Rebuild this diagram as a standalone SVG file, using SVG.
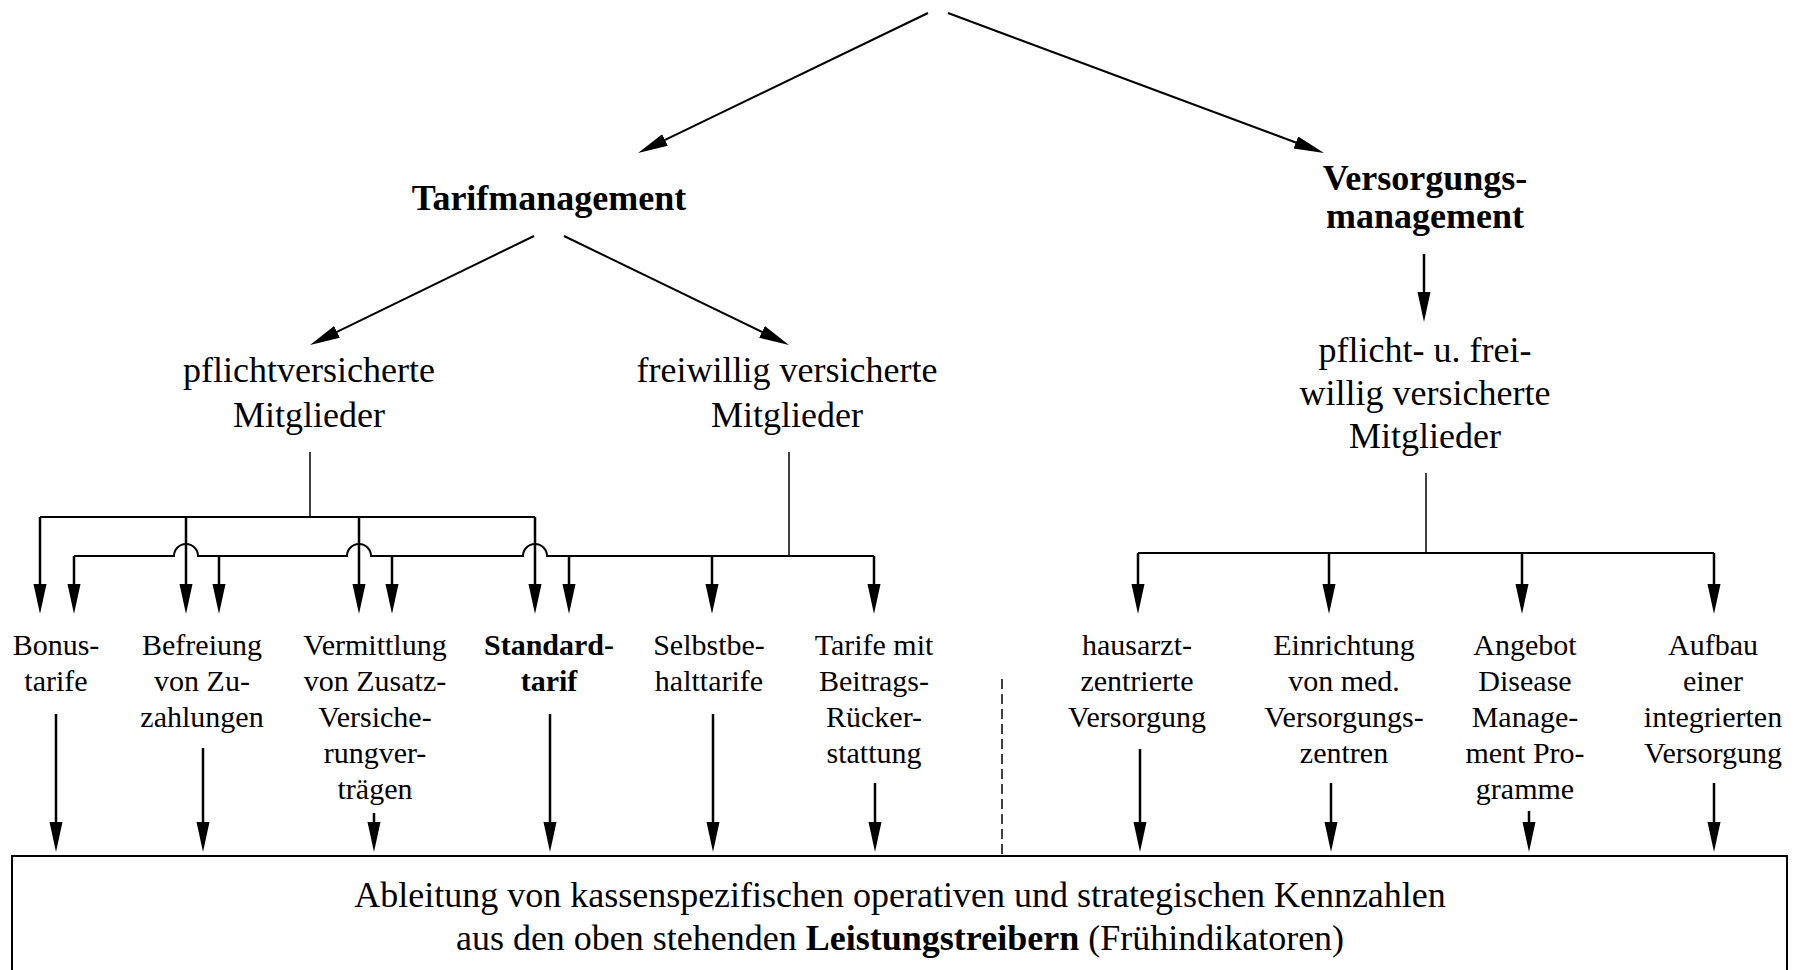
<svg xmlns="http://www.w3.org/2000/svg" width="1800" height="970" viewBox="0 0 1800 970">
<style>
text{font-family:"Liberation Serif","Times New Roman",serif;fill:#000;text-anchor:middle}
.big{font-size:36px}
.lbl{font-size:30px}
.b{font-weight:bold}
.ln{stroke:#000;fill:none;stroke-width:2}
.thin{stroke:#000;fill:none;stroke-width:1.5}
.dn{stroke:#000;fill:none;stroke-width:2.5;marker-end:url(#ah)}
.dg{stroke:#000;fill:none;stroke-width:2;marker-end:url(#ah)}
</style>
<defs>
<marker id="ah" markerUnits="userSpaceOnUse" markerWidth="32" markerHeight="14" refX="20" refY="6.5" orient="auto">
<path d="M0,0 L30,6.5 L0,13 z" fill="#000"/>
</marker>
</defs>
<rect width="1800" height="970" fill="#fff"/>

<g id="connectors">
<line class="dg" x1="928" y1="13" x2="647" y2="148.7"/>
<line class="dg" x1="948" y1="13" x2="1314.6" y2="149.5"/>
<line class="dg" x1="534" y1="236" x2="319" y2="340.6"/>
<line class="dg" x1="564" y1="236" x2="780" y2="340.6"/>
<line class="dn" x1="1424" y1="254" x2="1424" y2="312"/>
<line class="thin" x1="310" y1="452" x2="310" y2="517"/>
<line class="thin" x1="789" y1="452" x2="789" y2="556"/>
<line class="thin" x1="1426" y1="473" x2="1426" y2="553"/>
<path class="ln" d="M40,517 H535"/>
<path class="ln" d="M74,556 H174 A12,12 0 0 1 198,556 H347 A12,12 0 0 1 371,556 H523 A12,12 0 0 1 547,556 H874"/>
<path class="ln" d="M1138,553 H1714"/>
<line class="dn" x1="40" y1="517" x2="40" y2="604"/>
<line class="dn" x1="186" y1="517" x2="186" y2="604"/>
<line class="dn" x1="359" y1="517" x2="359" y2="604"/>
<line class="dn" x1="535" y1="517" x2="535" y2="604"/>
<line class="dn" x1="74" y1="556" x2="74" y2="604"/>
<line class="dn" x1="219" y1="556" x2="219" y2="604"/>
<line class="dn" x1="392" y1="556" x2="392" y2="604"/>
<line class="dn" x1="569" y1="556" x2="569" y2="604"/>
<line class="dn" x1="712" y1="556" x2="712" y2="604"/>
<line class="dn" x1="874" y1="556" x2="874" y2="604"/>
<line class="dn" x1="1138" y1="553" x2="1138" y2="604"/>
<line class="dn" x1="1329" y1="553" x2="1329" y2="604"/>
<line class="dn" x1="1522" y1="553" x2="1522" y2="604"/>
<line class="dn" x1="1714" y1="553" x2="1714" y2="604"/>
<line class="dn" x1="56" y1="714" x2="56" y2="842"/>
<line class="dn" x1="203" y1="748" x2="203" y2="842"/>
<line class="dn" x1="374" y1="813" x2="374" y2="842"/>
<line class="dn" x1="550" y1="714" x2="550" y2="842"/>
<line class="dn" x1="713" y1="714" x2="713" y2="842"/>
<line class="dn" x1="875" y1="783" x2="875" y2="842"/>
<line class="dn" x1="1140" y1="749" x2="1140" y2="842"/>
<line class="dn" x1="1331" y1="783" x2="1331" y2="842"/>
<line class="dn" x1="1529" y1="811" x2="1529" y2="842"/>
<line class="dn" x1="1714" y1="783" x2="1714" y2="842"/>
<line x1="1002" y1="679" x2="1002" y2="855" stroke="#000" stroke-width="1.5" stroke-dasharray="10 5"/>
</g>

<g id="tarifmanagement"><text class="big b" x="549" y="210">Tarifmanagement</text></g>
<g id="versorgungsmanagement"><text class="big b" x="1425" y="190">Versorgungs-</text><text class="big b" x="1425" y="228">management</text></g>
<g id="pflicht"><text class="big" x="309" y="382">pflichtversicherte</text><text class="big" x="309" y="427">Mitglieder</text></g>
<g id="freiwillig"><text class="big" x="787" y="382">freiwillig versicherte</text><text class="big" x="787" y="427">Mitglieder</text></g>
<g id="pflicht-frei"><text class="big" x="1425" y="362">pflicht- u. frei-</text><text class="big" x="1425" y="405">willig versicherte</text><text class="big" x="1425" y="448">Mitglieder</text></g>

<g id="bonustarife"><text class="lbl" x="56" y="655">Bonus-</text><text class="lbl" x="56" y="691">tarife</text></g>
<g id="befreiung"><text class="lbl" x="202" y="655">Befreiung</text><text class="lbl" x="202" y="691">von Zu-</text><text class="lbl" x="202" y="727">zahlungen</text></g>
<g id="vermittlung"><text class="lbl" x="375" y="655">Vermittlung</text><text class="lbl" x="375" y="691">von Zusatz-</text><text class="lbl" x="375" y="727">Versiche-</text><text class="lbl" x="375" y="763">rungver-</text><text class="lbl" x="375" y="799">trägen</text></g>
<g id="standardtarif"><text class="lbl b" x="549" y="655">Standard-</text><text class="lbl b" x="549" y="691">tarif</text></g>
<g id="selbstbehalt"><text class="lbl" x="709" y="655">Selbstbe-</text><text class="lbl" x="709" y="691">halttarife</text></g>
<g id="beitragsrueck"><text class="lbl" x="874" y="655">Tarife mit</text><text class="lbl" x="874" y="691">Beitrags-</text><text class="lbl" x="874" y="727">Rücker-</text><text class="lbl" x="874" y="763">stattung</text></g>
<g id="hausarzt"><text class="lbl" x="1137" y="655">hausarzt-</text><text class="lbl" x="1137" y="691">zentrierte</text><text class="lbl" x="1137" y="727">Versorgung</text></g>
<g id="mvz"><text class="lbl" x="1344" y="655">Einrichtung</text><text class="lbl" x="1344" y="691">von med.</text><text class="lbl" x="1344" y="727">Versorgungs-</text><text class="lbl" x="1344" y="763">zentren</text></g>
<g id="dmp"><text class="lbl" x="1525" y="655">Angebot</text><text class="lbl" x="1525" y="691">Disease</text><text class="lbl" x="1525" y="727">Manage-</text><text class="lbl" x="1525" y="763">ment Pro-</text><text class="lbl" x="1525" y="799">gramme</text></g>
<g id="integriert"><text class="lbl" x="1713" y="655">Aufbau</text><text class="lbl" x="1713" y="691">einer</text><text class="lbl" x="1713" y="727">integrierten</text><text class="lbl" x="1713" y="763">Versorgung</text></g>

<g id="kennzahlen">
<rect x="12" y="856" width="1775" height="130" fill="none" stroke="#000" stroke-width="2"/>
<text class="big" x="900" y="907">Ableitung von kassenspezifischen operativen und strategischen Kennzahlen</text>
<text class="big" x="900" y="950">aus den oben stehenden <tspan class="b">Leistungstreibern</tspan> (Frühindikatoren)</text>
</g>
</svg>
